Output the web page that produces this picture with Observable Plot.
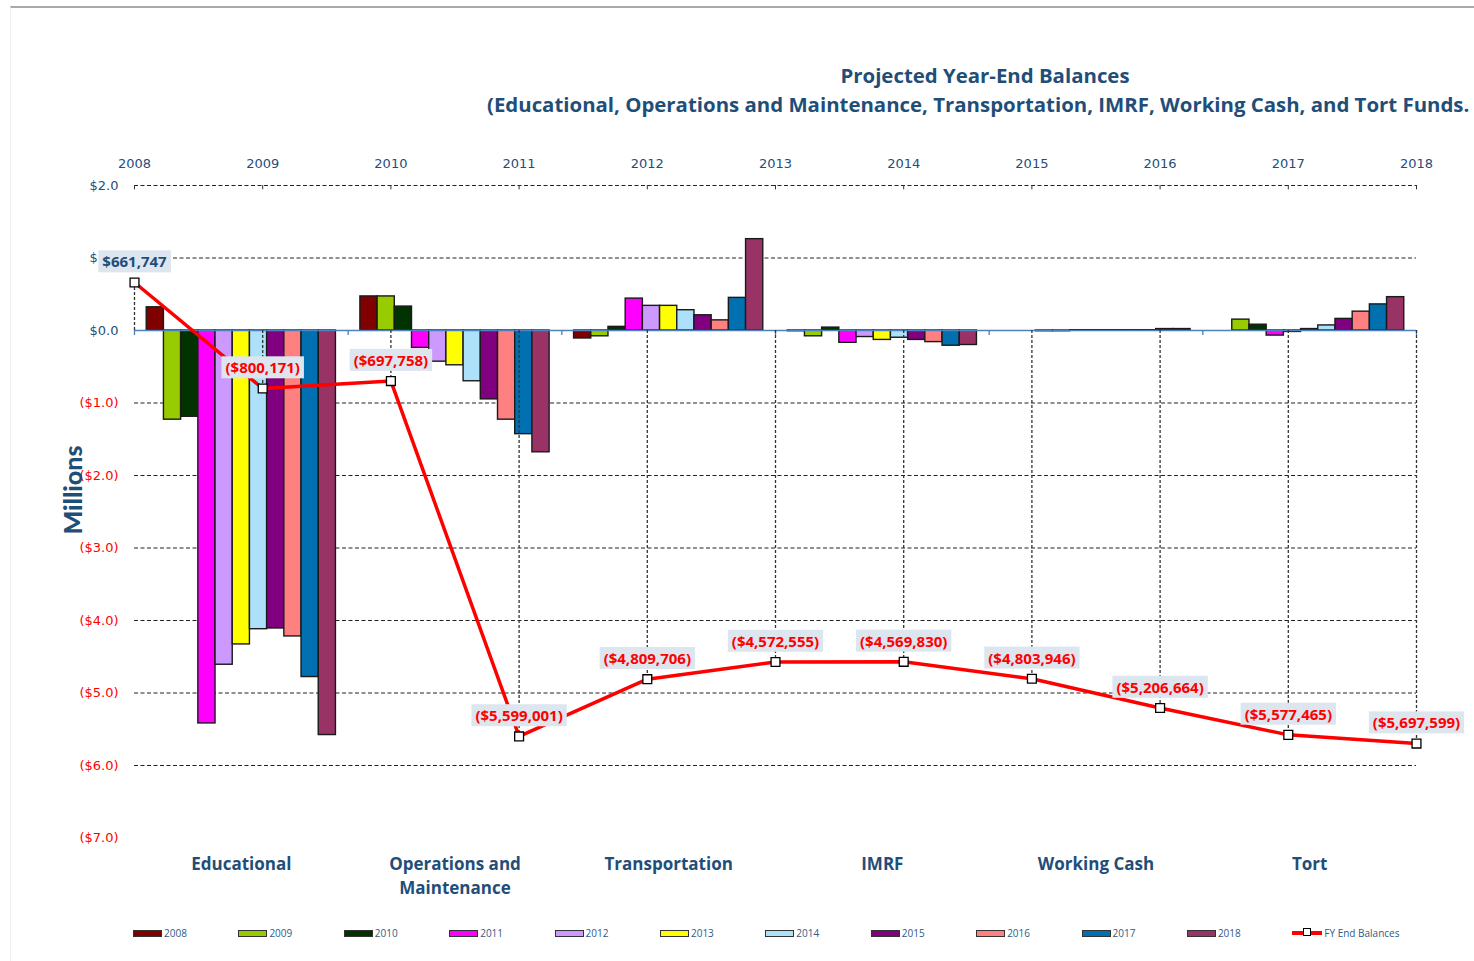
<!DOCTYPE html>
<html><head><meta charset="utf-8">
<script src="https://cdn.jsdelivr.net/npm/d3@7"></script>
<script src="https://cdn.jsdelivr.net/npm/@observablehq/plot@0.6"></script>
<style>
body{margin:0;background:#fff;}
#wrap{position:relative;width:1474px;height:961px;overflow:hidden;background:#fff;}
#frame{position:absolute;left:10px;top:6px;right:-2px;bottom:-2px;border-top:2px solid #a9a9a9;border-left:1px solid #f0f0f0;pointer-events:none;}
#chart{position:absolute;left:0;top:0;}
.title{position:absolute;white-space:nowrap;font-family:"Open Sans",sans-serif;font-weight:bold;font-size:20.4px;line-height:28px;color:#1f4e79;}
#t1{left:985px;top:61px;transform:translateX(-50%);}
#t2{left:487px;top:90px;}
#ylab{position:absolute;left:72px;top:490px;transform:translate(-50%,-50%) rotate(-90deg);font-family:Lato,"Open Sans",sans-serif;font-weight:900;font-size:25px;color:#1f4e79;white-space:nowrap;}
#legend{position:absolute;left:133px;top:926px;display:flex;font-family:"Open Sans",sans-serif;font-size:10px;color:#2f5a85;}
.li{width:105.4px;display:flex;align-items:center;height:14px;}
.sw{width:27px;height:5px;border:1px solid #333;margin-right:2px;}
.ln{position:relative;width:30px;height:4px;background:#ff0000;margin-right:2px;}
.ln span{position:absolute;left:11px;top:-3px;width:6px;height:6px;background:#fff;border:1px solid #000;}
</style></head>
<body>
<div id="wrap">
  <div id="frame"></div>
  <div id="chart"></div>
  <div class="title" id="t1">Projected Year-End Balances</div>
  <div class="title" id="t2">(Educational, Operations and Maintenance, Transportation, IMRF, Working Cash, and Tort Funds.</div>
  <div id="ylab">Millions</div>
  <div id="legend"></div>
</div>
<script>
const categories = ["Educational", "Operations and\nMaintenance", "Transportation", "IMRF", "Working Cash", "Tort"];
const years = [2008, 2009, 2010, 2011, 2012, 2013, 2014, 2015, 2016, 2017, 2018];
const yearColors = ["#800000", "#99cc00", "#003300", "#ff00ff", "#cc99ff", "#ffff00", "#ade1fa", "#800080", "#ff8080", "#0070b0", "#993366"];
// bar values, millions of dollars, one entry per year 2008..2018
const educational    = [0.32, -1.23, -1.19, -5.42, -4.61, -4.33, -4.12, -4.11, -4.22, -4.78, -5.58];
const operations     = [0.47, 0.47, 0.33, -0.24, -0.43, -0.48, -0.70, -0.95, -1.23, -1.43, -1.68];
const transportation = [-0.11, -0.08, 0.05, 0.44, 0.34, 0.34, 0.28, 0.21, 0.14, 0.45, 1.26];
const imrf           = [-0.01, -0.08, 0.04, -0.17, -0.09, -0.13, -0.10, -0.13, -0.16, -0.21, -0.20];
const workingCash    = [0, 0, -0.01, -0.01, 0.004, 0.004, 0.004, 0.004, 0.004, 0.02, 0.02];
const tort           = [0, 0.15, 0.08, -0.07, -0.02, 0.02, 0.07, 0.16, 0.26, 0.36, 0.46];
// FY end balances (dollars)
const fyEndBalances = [661747, -800171, -697758, -5599001, -4809706, -4572555, -4569830, -4803946, -5206664, -5577465, -5697599];
const yTicks = [2, 1, 0, -1, -2, -3, -4, -5, -6, -7];
const gridValues = [2, 1, -1, -2, -3, -4, -5, -6];

const series = [educational, operations, transportation, imrf, workingCash, tort];
const bars = categories.flatMap((c, ci) => series[ci].map((v, yi) => ({ci, yi, year: String(years[yi]), value: v})));
const fy = years.map((y, i) => ({year: y, value: fyEndBalances[i] / 1e6, raw: fyEndBalances[i]}));

const nCat = categories.length;
const barW = 0.0805;
const pad = (1 - years.length * barW) / 2;
const yearX = y => (y - years[0]) / (years[years.length - 1] - years[0]) * nCat;

const BLUE = "#1f4e79", RED = "#ff0000";
const fmtTick = d => d < 0 ? `($${(-d).toFixed(1)})` : `$${d.toFixed(1)}`;
const fmtMoney = v => v < 0 ? `($${d3.format(",")(-v)})` : `$${d3.format(",")(v)}`;

const plot = Plot.plot({
  width: 1474, height: 961,
  marginLeft: 134, marginRight: 58, marginTop: 185, marginBottom: 123.5,
  x: {type: "linear", domain: [0, nCat], axis: null},
  y: {domain: [-7, 2], axis: null},
  color: {type: "ordinal", domain: years.map(String), range: yearColors},
  style: {background: "transparent", overflow: "visible"},
  marks: [
    Plot.ruleY(gridValues, {stroke: "#222", strokeDasharray: "4,2.5", strokeWidth: 1.1}),
    Plot.rectY(bars, {
      x1: d => d.ci + pad + d.yi * barW,
      x2: d => d.ci + pad + (d.yi + 1) * barW,
      y1: 0, y2: "value", fill: "year", stroke: "#1a1a1a", strokeWidth: 1.4
    }),
    Plot.ruleY([0], {stroke: "#4f81bd", strokeWidth: 1.6}),
    Plot.ruleX(d3.range(nCat + 1), {y1: 0, y2: -0.07, stroke: "#4f81bd", strokeWidth: 1.3}),
    Plot.ruleX(years.map(yearX), {y1: 2, y2: 1.94, stroke: "#333", strokeWidth: 1}),
    Plot.ruleX(fy, {x: d => yearX(d.year), y1: 0, y2: "value", stroke: "#333", strokeDasharray: "3,2", strokeWidth: 1.3}),
    Plot.line(fy, {x: d => yearX(d.year), y: "value", stroke: RED, strokeWidth: 3.5}),
    Plot.dot(fy, {x: d => yearX(d.year), y: "value", symbol: "square", r: 5, fill: "white", stroke: "#000", strokeWidth: 1.3}),
    Plot.text(yTicks, {y: d => d, frameAnchor: "left", dx: -16, textAnchor: "end", text: fmtTick,
      fill: d => d < 0 ? RED : BLUE, fontSize: 13, fontFamily: "DejaVu Sans, sans-serif"}),
    Plot.text(fy, {x: d => yearX(d.year), y: "value", dy: -20, text: d => fmtMoney(d.raw),
      fill: d => d.raw < 0 ? RED : BLUE, fontWeight: "bold", fontSize: 15, fontFamily: "Open Sans, sans-serif"}),
    Plot.text(years, {x: yearX, frameAnchor: "top", dy: -27, text: d => String(d), fill: BLUE, fontSize: 13, fontFamily: "DejaVu Sans, sans-serif"}),
    Plot.text(categories, {x: (d, i) => i + 0.5, frameAnchor: "bottom", dy: 15, lineAnchor: "top", lineHeight: 1.42,
      text: d => d, fill: BLUE, fontWeight: "bold", fontSize: 17, fontFamily: "Open Sans, sans-serif"})
  ]
});
document.getElementById("chart").appendChild(plot);

// label boxes behind the FY point labels
const labelTexts = fyEndBalances.map(fmtMoney);
plot.querySelectorAll("text").forEach(t => {
  if (!labelTexts.includes(t.textContent)) return;
  const b = t.getBBox();
  const r = document.createElementNS("http://www.w3.org/2000/svg", "rect");
  r.setAttribute("x", b.x - 4); r.setAttribute("y", b.y - 1);
  r.setAttribute("width", b.width + 8); r.setAttribute("height", b.height + 2);
  r.setAttribute("fill", "#dde5ef");
  if (t.getAttribute("transform")) r.setAttribute("transform", t.getAttribute("transform"));
  t.parentNode.insertBefore(r, t);
});

// legend
const legend = document.getElementById("legend");
years.forEach((y, i) => {
  const li = document.createElement("div"); li.className = "li";
  li.innerHTML = `<div class="sw" style="background:${yearColors[i]}"></div><span>${y}</span>`;
  legend.appendChild(li);
});
const lf = document.createElement("div"); lf.className = "li"; lf.style.width = "140px";
lf.innerHTML = `<div class="ln"><span></span></div><span>FY End Balances</span>`;
legend.appendChild(lf);
</script>
</body></html>
